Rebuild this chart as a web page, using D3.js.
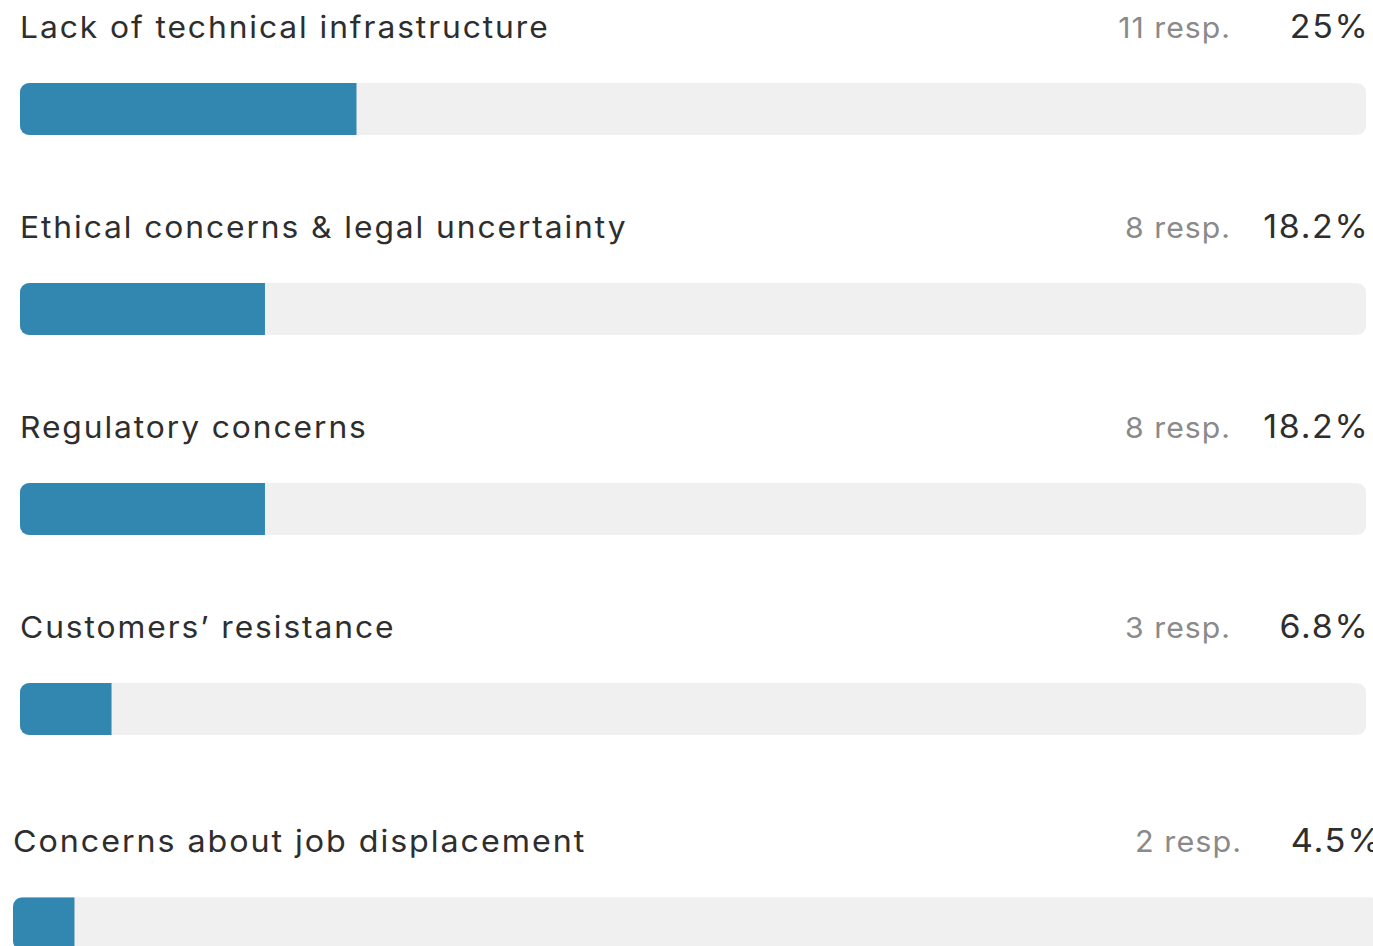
<!DOCTYPE html>
<html>
<head>
<meta charset="utf-8">
<script src="https://cdn.jsdelivr.net/npm/d3@7"></script>
<style>
  html, body { margin: 0; padding: 0; background: #fff; overflow: hidden; }
  text { font-family: Inter, "Noto Sans", sans-serif; }
</style>
</head>
<body>
<svg id="chart" width="1373" height="946"></svg>
<script>
const categories = [
  "Lack of technical infrastructure",
  "Ethical concerns & legal uncertainty",
  "Regulatory concerns",
  "Customers\u2019 resistance",
  "Concerns about job displacement",
];
const responses = [11, 8, 8, 3, 2];
const percents = [25, 18.2, 18.2, 6.8, 4.5];
const percentLabels = ["25%", "18.2%", "18.2%", "6.8%", "4.5%"];

const svg = d3.select("#chart");
const barWidth = 1346;
const rowStep = 200;

const x = d3.scaleLinear().domain([0, 100]).range([0, barWidth]);

// last row in the screenshot sits a bit bigger and shifted
const rowTransform = (i) =>
  i < 4
    ? `translate(20,${i * rowStep})`
    : `translate(13,813) scale(1.015)`;

const rows = svg
  .selectAll(".row")
  .data(categories)
  .join("g")
  .attr("class", "row")
  .attr("transform", (d, i) => rowTransform(i));

rows
  .append("clipPath")
  .attr("id", (d, i) => `clip-${i}`)
  .append("rect")
  .attr("x", 0)
  .attr("y", 83)
  .attr("width", barWidth)
  .attr("height", 52)
  .attr("rx", 9);

rows
  .append("rect")
  .attr("class", "track")
  .attr("x", 0)
  .attr("y", 83)
  .attr("width", barWidth)
  .attr("height", 52)
  .attr("rx", 9)
  .attr("fill", "#f0f0f0");

rows
  .append("rect")
  .attr("class", "bar")
  .attr("clip-path", (d, i) => `url(#clip-${i})`)
  .attr("x", 0)
  .attr("y", 83)
  .attr("width", (d, i) => x(percents[i]))
  .attr("height", 52)
  .attr("fill", "#3287b0");

// the source font is wider than Inter, so stretch glyphs a little
const labelSx = 1.06;
const respSx = 1.04;
const pctSx = 1.06;

rows
  .append("text")
  .attr("class", "label")
  .attr("transform", `scale(${labelSx},1)`)
  .attr("x", 0)
  .attr("y", 38)
  .attr("font-size", 30)
  .attr("letter-spacing", 1.8)
  .attr("fill", "#2e2e2e")
  .text((d) => d);

rows
  .append("text")
  .attr("class", "resp")
  .attr("transform", `scale(${respSx},1)`)
  .attr("x", 1211 / respSx)
  .attr("y", 38)
  .attr("text-anchor", "end")
  .attr("font-size", 29)
  .attr("letter-spacing", 1)
  .attr("fill", "#8a8a8a")
  .text((d, i) => `${responses[i]} resp.`);

rows
  .append("text")
  .attr("class", "pct")
  .attr("transform", `scale(${pctSx},1)`)
  .attr("x", 1349.5 / pctSx)
  .attr("y", 38)
  .attr("text-anchor", "end")
  .attr("font-size", 32)
  .attr("letter-spacing", 1.6)
  .attr("fill", "#2e2e2e")
  .text((d, i) => percentLabels[i]);
</script>
</body>
</html>
